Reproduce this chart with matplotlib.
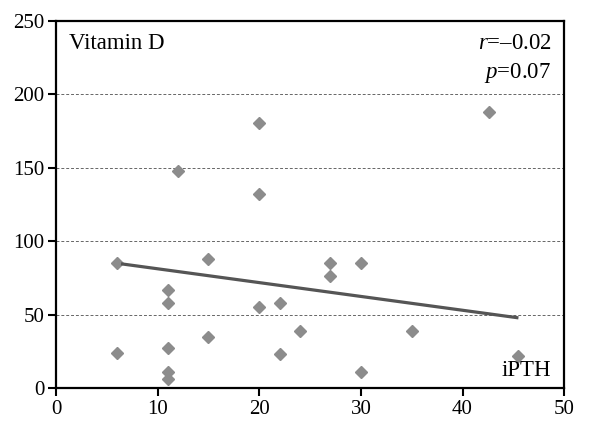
import matplotlib
matplotlib.use("Agg")
import matplotlib.pyplot as plt
import numpy as np

# iPTH (x) vs Vitamin D (y)
ipth = [6, 6, 11, 11, 11, 11, 11, 15, 15, 20, 22, 22, 24,
        27, 27, 30, 30, 35, 45.5, 20, 20, 12, 42.6]
vitd = [85, 24, 67, 58, 27, 11, 6, 88, 35, 55, 58, 23, 39,
        85, 76, 85, 11, 39, 22, 180, 132, 148, 188]

# regression line (slope, intercept) and its x range
fit_coef = [-0.94, 90.6]
fit_range = [6.4, 45.5]

x_ticks = [0, 10, 20, 30, 40, 50]
y_ticks = [0, 50, 100, 150, 200, 250]
grid_y = [50, 100, 150, 200]

plt.rcParams['font.family'] = ['Liberation Serif', 'DejaVu Serif']
plt.rcParams['mathtext.fontset'] = 'custom'
plt.rcParams['mathtext.it'] = 'Liberation Serif:italic'
plt.rcParams['mathtext.rm'] = 'Liberation Serif'

fig = plt.figure(figsize=(5.93, 4.28), dpi=100)
ax = fig.add_axes([0.0944, 0.093, 0.857, 0.859])

for g in grid_y:
    ax.axhline(g, color='#666666', lw=0.7, ls=(0, (3, 2)), zorder=1)

ax.plot(ipth, vitd, ls='none', marker='D', ms=6.6, color='#8c8c8c',
        mec='#8c8c8c', zorder=3)

xf = np.array(fit_range)
ax.plot(xf, np.polyval(fit_coef, xf), color='#555555', lw=2.3,
        solid_capstyle='butt', zorder=4)

ax.set_xlim(0, 50)
ax.set_ylim(0, 250)
ax.set_xticks(x_ticks)
ax.set_yticks(y_ticks)
ax.tick_params(direction='out', length=6, width=1.5, labelsize=15,
               pad=2.5, colors='black')
for s in ax.spines.values():
    s.set_linewidth(1.6)

ax.text(0.025, 0.965, 'Vitamin D', transform=ax.transAxes, fontsize=16.5,
        ha='left', va='top')
ax.text(0.975, 0.965, r'$r$=–0.02', transform=ax.transAxes,
        fontsize=16.5, ha='right', va='top')
ax.text(0.975, 0.89, r'$p$=0.07', transform=ax.transAxes,
        fontsize=16.5, ha='right', va='top')
ax.text(0.975, 0.02, 'iPTH', transform=ax.transAxes, fontsize=16.5,
        ha='right', va='bottom')

fig.savefig('out.png', dpi=100)
